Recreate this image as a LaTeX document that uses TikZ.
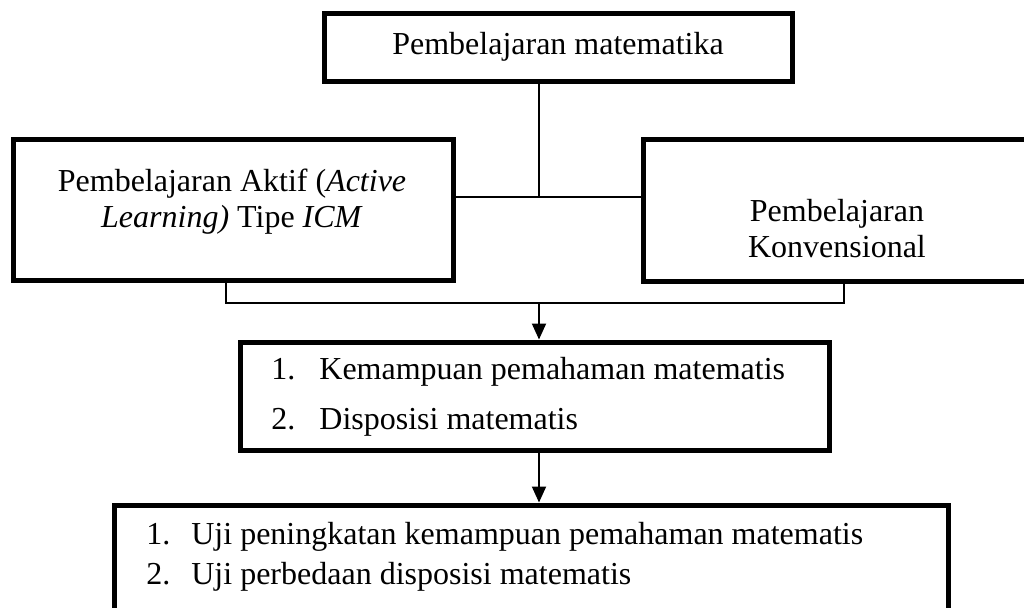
\documentclass[tikz,border=0pt]{standalone}
\usepackage{fontspec}
\setmainfont{Liberation Serif}
\usepackage{tikz}
\usetikzlibrary{positioning,arrows.meta}

\begin{document}
\begin{tikzpicture}[x=0.5pt, y=-0.5pt,
    kotak/.style={draw, line width=2.5pt, inner sep=0pt},
    teks/.style={font=\fontsize{16}{18}\selectfont, align=center, inner sep=0pt},
    garis/.style={line width=0.7pt},
    panah/.style={line width=1pt, -{Triangle[length=8pt, width=7pt]}}]
    \useasboundingbox (0,0) rectangle (1024,607);

    % Pembelajaran matematika
    \node (mat) [kotak, teks, minimum width=234pt, minimum height=34pt] at (558,47) {Pembelajaran matematika};

    % dua kelas pembelajaran
    \node (aktif) [kotak, minimum width=220pt, minimum height=70.5pt] at (233,209.5) {};
    \node (aktif-t) [teks] at (232,202) {Pembelajaran Aktif (\textit{Active}\\\textit{Learning)} Tipe \textit{ICM}};
    \node (konv) [kotak, minimum width=194.5pt, minimum height=71pt] at (837.5,210) {};
    \node (konv-t) [teks] at (837,229) {Pembelajaran\\Konvensional};

    \coordinate (hub) at (539,197);
    \draw[garis] (mat.south -| hub) -- (hub);
    \draw[garis] (aktif.east |- hub) -- (konv.west |- hub);

    % kemampuan yang diukur
    \node (hasil) [kotak, minimum width=294.5pt, minimum height=54pt] at (534.5,396) {};
    \node (hasil-t) [teks, align=left, anchor=west, font=\fontsize{16}{25}\selectfont] at (271,397)
        {\makebox[24pt][l]{1.}Kemampuan pemahaman matematis\\\makebox[24pt][l]{2.}Disposisi matematis};

    \coordinate (kiri) at (226,303);
    \coordinate (kanan) at (844,303);
    \coordinate (gabung) at (539,303);
    \draw[garis] (aktif.south -| kiri) -- (kiri) -- (kanan) -- (konv.south -| kanan);
    \draw[panah] (gabung) -- (gabung |- hasil.north);

    % uji hipotesis
    \node (uji) [kotak, minimum width=417pt, minimum height=54.5pt] at (531,559.5) {};
    \node (uji-t) [teks, align=left, anchor=west, font=\fontsize{16}{20}\selectfont] at (146,557)
        {\makebox[22.5pt][l]{1.}Uji peningkatan kemampuan pemahaman matematis\\\makebox[22.5pt][l]{2.}Uji perbedaan disposisi matematis};
    \draw[panah] (hasil.south -| gabung) -- (gabung |- uji.north);
\end{tikzpicture}
\end{document}
